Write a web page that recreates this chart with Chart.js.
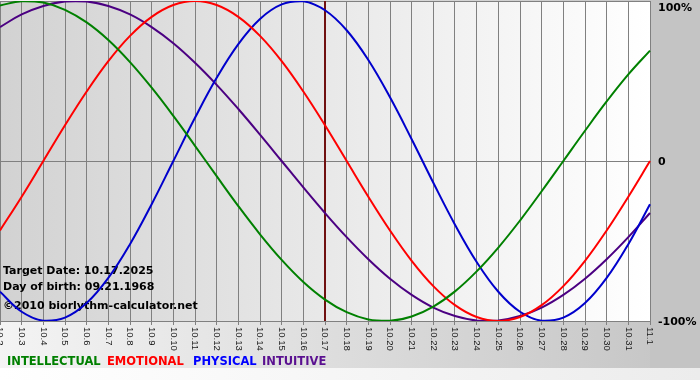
<!DOCTYPE html>
<html>
<head>
<meta charset="utf-8">
<script src="https://cdn.jsdelivr.net/npm/chart.js@4/dist/chart.umd.min.js"></script>
<style>
html,body{margin:0;padding:0;background:#fff;}
#wrap{width:700px;height:380px;position:relative;}
</style>
</head>
<body>
<div id="wrap"><canvas id="c" width="700" height="380"></canvas></div>
<script>
const days = ['10.2','10.3','10.4','10.5','10.6','10.7','10.8','10.9','10.10','10.11','10.12','10.13','10.14','10.15','10.16','10.17','10.18','10.19','10.20','10.21','10.22','10.23','10.24','10.25','10.26','10.27','10.28','10.29','10.30','10.31','11.1'];
const intellectual = [97.2, 99.9, 99.0, 94.5, 86.6, 75.6, 61.8, 45.8, 28.2, 9.5, -9.5, -28.2, -45.8, -61.8, -75.6, -86.6, -94.5, -99.0, -99.9, -97.2, -91.0, -81.5, -69.0, -54.1, -37.2, -18.9, 0, 18.9, 37.2, 54.1, 69.0];
const emotional = [-43.4, -22.3, 0, 22.3, 43.4, 62.4, 78.2, 90.1, 97.5, 100, 97.5, 90.1, 78.2, 62.4, 43.4, 22.3, 0, -22.3, -43.4, -62.4, -78.2, -90.1, -97.5, -100, -97.5, -90.1, -78.2, -62.4, -43.4, -22.3, 0];
const physical = [-81.7, -94.2, -99.8, -97.9, -88.8, -73.1, -52.0, -27.0, 0, 27.0, 52.0, 73.1, 88.8, 97.9, 99.8, 94.2, 81.7, 63.1, 39.8, 13.6, -13.6, -39.8, -63.1, -81.7, -94.2, -99.8, -97.9, -88.8, -73.1, -52.0, -27.0];
const intuitive = [83.7, 91.6, 96.9, 99.7, 99.7, 96.9, 91.6, 83.7, 73.6, 61.4, 47.6, 32.5, 16.5, 0, -16.5, -32.5, -47.6, -61.4, -73.6, -83.7, -91.6, -96.9, -99.7, -99.7, -96.9, -91.6, -83.7, -73.6, -61.4, -47.6, -32.5];
const yTicks = [100, 0, -100];
const yTickLabels = ['100%', '0', '-100%'];
const targetDay = '10.17';
const infoLines = ['Target Date: 10.17.2025', 'Day of birth: 09.21.1968', '\u00A92010 biorlythm-calculator.net'];
const legendNames = ['INTELLECTUAL', 'EMOTIONAL', 'PHYSICAL', 'INTUITIVE'];

const colors = {green:'#008000', red:'#ff0000', blue:'#0000cc', purple:'#4b0082'};
const legendColors = ['#008000', '#ff0000', '#0000ff', '#5a1090'];

const bgPlugin = {
  id: 'bg',
  beforeDraw(chart) {
    const ctx = chart.ctx, a = chart.chartArea, W = chart.width, H = chart.height;
    ctx.save();
    let g = ctx.createLinearGradient(0, 0, W, 0);
    g.addColorStop(0, '#f4f4f4'); g.addColorStop(1, '#c4c4c4');
    ctx.fillStyle = g; ctx.fillRect(0, 0, W, 368);
    g = ctx.createLinearGradient(0, 0, W, 0);
    g.addColorStop(0, '#ffffff'); g.addColorStop(1, '#ececec');
    ctx.fillStyle = g; ctx.fillRect(0, 368, W, H - 368);
    ctx.fillStyle = '#c4c4c4'; ctx.fillRect(a.right, 0, W - a.right, 368);
    g = ctx.createLinearGradient(a.left, 0, a.right, 0);
    g.addColorStop(0, '#d2d2d2'); g.addColorStop(1, '#ffffff');
    ctx.fillStyle = g; ctx.fillRect(a.left, a.top, a.right - a.left, a.bottom - a.top);
    ctx.restore();
  },
  beforeDatasetsDraw(chart) {
    const ctx = chart.ctx, a = chart.chartArea;
    const xs = chart.scales.x;
    ctx.save();
    ctx.fillStyle = '#000';
    ctx.font = 'bold 11px "DejaVu Sans"';
    ctx.textBaseline = 'middle';
    ctx.textAlign = 'left';
    ctx.fillText(infoLines[0], 3, 271);
    ctx.fillText(infoLines[1], 3, 287);
    ctx.fillText(infoLines[2], 3, 306);
    const tx = Math.round(xs.getPixelForValue(days.indexOf(targetDay)));
    ctx.strokeStyle = '#701010';
    ctx.lineWidth = 2;
    ctx.beginPath(); ctx.moveTo(tx, a.top); ctx.lineTo(tx, a.bottom); ctx.stroke();
    ctx.restore();
  },
  afterDraw(chart) {
    const ctx = chart.ctx, a = chart.chartArea;
    const xs = chart.scales.x, ys = chart.scales.y;
    ctx.save();
    ctx.fillStyle = '#1a1a1a';
    ctx.font = '9.5px "Liberation Sans"';
    ctx.textAlign = 'left';
    ctx.textBaseline = 'middle';
    days.forEach((d, i) => {
      const x = xs.getPixelForTick(i);
      ctx.save();
      ctx.translate(x, a.bottom + 6);
      ctx.rotate(Math.PI / 2);
      ctx.fillText(d, 0, 0);
      ctx.restore();
    });
    ctx.fillStyle = '#000';
    ctx.font = 'bold 11px "DejaVu Sans"';
    ctx.textBaseline = 'middle';
    yTicks.forEach((v, i) => {
      const y = Math.max(ys.getPixelForValue(v) + 1, 8);
      ctx.fillText(yTickLabels[i], a.right + 8, y);
    });
    const lx = [7, 107, 193, 262];
    ctx.font = 'bold 11.5px "DejaVu Sans"';
    legendNames.forEach((n, i) => {
      ctx.fillStyle = legendColors[i];
      ctx.fillText(n, lx[i], 362);
    });
    ctx.restore();
  }
};

const ds = (label, data, color) => ({
  label, data, borderColor: color, backgroundColor: color,
  borderWidth: 2, pointRadius: 0, tension: 0.4, fill: false
});

new Chart(document.getElementById('c'), {
  type: 'line',
  data: {
    labels: days,
    datasets: [
      ds('INTELLECTUAL', intellectual, colors.green),
      ds('EMOTIONAL', emotional, colors.red),
      ds('PHYSICAL', physical, colors.blue),
      ds('INTUITIVE', intuitive, colors.purple)
    ]
  },
  options: {
    responsive: false,
    animation: false,
    devicePixelRatio: 1,
    layout: { padding: { top: 1, left: 0, right: 0, bottom: 0 } },
    plugins: { legend: { display: false }, tooltip: { enabled: false } },
    scales: {
      x: {
        type: 'category',
        offset: false,
        grid: { color: '#808080', lineWidth: 1, tickLength: 4, drawTicks: true },
        border: { display: true, color: '#808080' },
        ticks: { display: false, autoSkip: false },
        afterFit: s => { s.height = 59; }
      },
      y: {
        position: 'right',
        min: -100, max: 100,
        afterBuildTicks: s => { s.ticks = yTicks.map(v => ({ value: v })); },
        grid: { color: '#808080', lineWidth: 1, drawTicks: false },
        border: { display: true, color: '#808080' },
        ticks: { display: false },
        afterFit: s => { s.width = 50; }
      }
    }
  },
  plugins: [bgPlugin]
});
</script>
</body>
</html>
